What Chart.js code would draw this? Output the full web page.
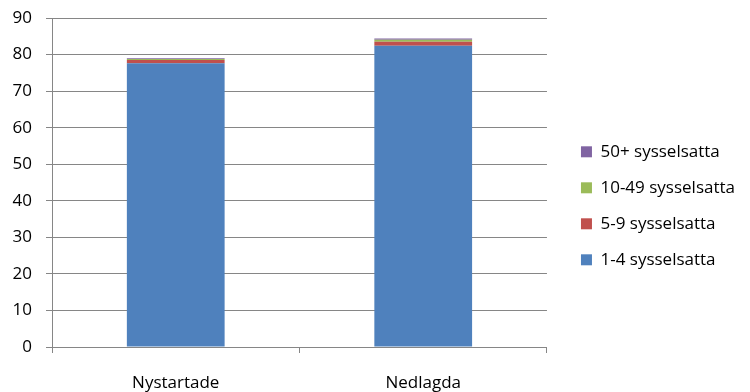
<!DOCTYPE html>
<html lang="sv">
<head>
  <meta charset="UTF-8">
  <title>Sysselsatta</title>
  <script src="https://cdn.jsdelivr.net/npm/chart.js"></script>
  <style>
    body { margin: 0; padding: 0; background: #ffffff; }
    #wrap { width: 750px; height: 392px; }
  </style>
</head>
<body>
  <div id="wrap"><canvas id="chart" width="750" height="392"></canvas></div>
  <script>
    const categories = ['Nystartade', 'Nedlagda'];
    const s1to4 = [77.6, 82.4];
    const s5to9 = [0.9, 1.1];
    const s10to49 = [0.3, 0.55];
    const s50plus = [0.2, 0.35];
    const yTicks = [0, 10, 20, 30, 40, 50, 60, 70, 80, 90];

    const font = { family: '"Open Sans", sans-serif', size: 17 };
    const gridGrey = '#868686';

    new Chart(document.getElementById('chart'), {
      type: 'bar',
      data: {
        labels: categories,
        datasets: [
          { label: '1-4 sysselsatta', data: s1to4, backgroundColor: '#4F81BD' },
          { label: '5-9 sysselsatta', data: s5to9, backgroundColor: '#C0504D' },
          { label: '10-49 sysselsatta', data: s10to49, backgroundColor: '#9BBB59' },
          { label: '50+ sysselsatta', data: s50plus, backgroundColor: '#8064A2' }
        ]
      },
      options: {
        responsive: false,
        animation: false,
        layout: { padding: { top: 0, right: 5, bottom: 0, left: 0 } },
        datasets: { bar: { categoryPercentage: 1, barPercentage: 0.395 } },
        plugins: {
          legend: {
            position: 'right',
            reverse: true,
            maxWidth: 240,
            title: { display: true, text: ' ', font: { size: 8 }, padding: { top: 0, bottom: 10 } },
            labels: { boxWidth: 11, boxHeight: 11, padding: 19, color: '#000', font: font }
          },
          tooltip: { enabled: false }
        },
        scales: {
          x: {
            stacked: true,
            grid: { drawOnChartArea: false, drawTicks: true, tickLength: 6, color: gridGrey },
            border: { color: gridGrey },
            ticks: { color: '#000', font: { ...font, lineHeight: 1 }, padding: 22, maxRotation: 0 },
            afterFit: axis => { axis.height = 45; }
          },
          y: {
            stacked: true,
            min: 0,
            max: 90,
            afterBuildTicks: axis => { axis.ticks = yTicks.map(v => ({ value: v })); },
            grid: { color: gridGrey, tickLength: 6 },
            border: { color: gridGrey },
            ticks: { color: '#000', font: font, padding: 14 },
            afterFit: axis => { axis.width = 52; axis.paddingTop = 18; axis.paddingBottom = 0; }
          },
          gap: {
            position: 'right',
            display: true,
            grid: { display: false },
            border: { display: false },
            ticks: { display: false },
            afterFit: axis => { axis.width = 15; axis.paddingTop = 0; axis.paddingBottom = 0; }
          }
        }
      }
    });
  </script>
</body>
</html>
